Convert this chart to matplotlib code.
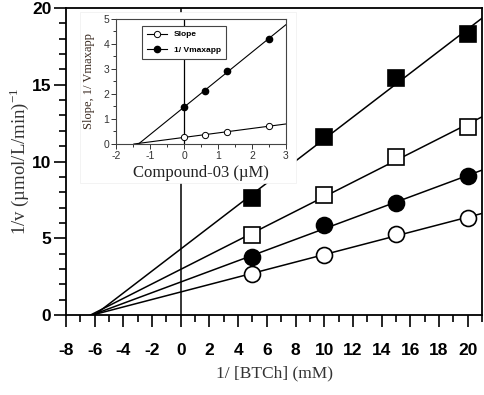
import numpy as np
import matplotlib
matplotlib.use("Agg")
import matplotlib.pyplot as plt
from matplotlib.patches import Rectangle
from matplotlib.ticker import MultipleLocator

plt.rcParams['axes.unicode_minus'] = False

# ---- Data ----
btch_inv = [5, 10, 15, 20]
v_filled_sq = [7.65, 11.6, 15.45, 18.3]
v_open_sq = [5.2, 7.8, 10.3, 12.25]
v_filled_ci = [3.75, 5.85, 7.3, 9.05]
v_open_ci = [2.7, 3.9, 5.28, 6.3]

conc = [0, 0.625, 1.25, 2.5]
slope_vals = [0.28, 0.36, 0.48, 0.72]
vmax_vals = [1.47, 2.12, 2.92, 4.2]

main_xticks = list(range(-8, 21, 2))
main_yticks = [0, 5, 10, 15, 20]

fig = plt.figure(figsize=(4.84, 3.95), dpi=100)
ax = fig.add_axes([66/484, 1-315/395, (482-66)/484, (315-8)/395])
ax.set_xlim(-8, 21)
ax.set_ylim(0, 20)

def fit_line(x, y, a, x_end, lw=1.1):
    k, b = np.polyfit(x, y, 1)
    x0 = -b / k
    xs = np.array([x0, x_end])
    a.plot(xs, k*xs + b, color='black', lw=lw, zorder=2)

series = [
    (v_filled_sq, 's', 'black'),
    (v_open_sq, 's', 'white'),
    (v_filled_ci, 'o', 'black'),
    (v_open_ci, 'o', 'white'),
]
for ys, m, fc in series:
    fit_line(btch_inv, ys, ax, 21)
    ax.plot(btch_inv, ys, linestyle='none', marker=m, markersize=11 if m == 's' else 11.5,
            markerfacecolor=fc, markeredgecolor='black', markeredgewidth=1.2, zorder=3)

ax.axvline(0, color='black', lw=1.1, zorder=1)

for s in ax.spines.values():
    s.set_linewidth(1.3)
ax.set_xticks(main_xticks)
ax.set_yticks(main_yticks)
ax.xaxis.set_minor_locator(MultipleLocator(1))
ax.yaxis.set_minor_locator(MultipleLocator(1))
ax.tick_params(axis='both', which='major', direction='out', length=8.5, width=1.2,
               labelsize=12.5)
ax.tick_params(axis='both', which='minor', direction='out', length=5, width=1.2)
for lab in ax.get_xticklabels() + ax.get_yticklabels():
    lab.set_fontfamily('Liberation Sans')
    lab.set_fontweight('bold')
ax.tick_params(axis='x', pad=12)
ax.tick_params(axis='y', pad=2)

ax.set_xlabel('1/ [BTCh] (mM)', family='Liberation Serif', fontsize=12.5, color='#333333', labelpad=5)
ax.set_ylabel('1/v (µmol/L/min)$^{\\mathregular{-1}}$', family='Liberation Serif', fontsize=13.5,
              color='#333333', labelpad=1)

# white background patch behind inset
fig.patches.append(Rectangle((80/484, 1-183/395), (296-80)/484, (183-12)/395,
                             transform=fig.transFigure, facecolor='white',
                             edgecolor='#eeeeee', lw=0.5, zorder=1))

ins = fig.add_axes([116/484, 1-144/395, (286-116)/484, (144-19)/395])
ins.set_zorder(2)
ins.set_xlim(-2, 3)
ins.set_ylim(0, 5)
fit_line(conc, slope_vals, ins, 3, lw=0.8)
fit_line(conc, vmax_vals, ins, 3, lw=0.8)
ins.axvline(0, color='black', lw=0.9, zorder=1)
ins.plot(conc, slope_vals, linestyle='none', marker='o', markersize=4.5,
         markerfacecolor='white', markeredgecolor='black', markeredgewidth=0.7, zorder=3)
ins.plot(conc, vmax_vals, linestyle='none', marker='o', markersize=4.5,
         markerfacecolor='black', markeredgecolor='black', zorder=3)
for s in ins.spines.values():
    s.set_linewidth(0.8)
    s.set_color('#444444')
ins.xaxis.set_major_locator(MultipleLocator(1))
ins.xaxis.set_minor_locator(MultipleLocator(0.5))
ins.yaxis.set_major_locator(MultipleLocator(1))
ins.yaxis.set_minor_locator(MultipleLocator(0.5))
ins.tick_params(axis='both', which='major', direction='out', length=3.5, width=0.7,
                labelsize=7.5, pad=1.5, colors='#333333')
ins.tick_params(axis='both', which='minor', direction='out', length=2, width=0.7, colors='#333333')
for lab in ins.get_xticklabels() + ins.get_yticklabels():
    lab.set_fontfamily('Liberation Sans')
ins.set_xlabel('Compound-03 (µM)', family='Liberation Serif', fontsize=12, color='#222222', labelpad=3)
ins.set_ylabel('Slope, 1/ Vmaxapp', family='Liberation Serif', fontsize=9, color='#3a2a20', labelpad=6)

# legend
l1, = ins.plot([], [], color='black', lw=0.8, marker='o', markersize=4.5,
               markerfacecolor='white', markeredgecolor='black', markeredgewidth=0.7)
l2, = ins.plot([], [], color='black', lw=0.8, marker='o', markersize=4.5,
               markerfacecolor='black', markeredgecolor='black')
leg = ins.legend([l1, l2], ['Slope', '1/ Vmaxapp'], loc='upper left',
                 bbox_to_anchor=(0.13, 0.98), fancybox=False, framealpha=1,
                 edgecolor='#444444', prop={'family': 'Liberation Sans', 'weight': 'bold', 'size': 6},
                 handlelength=2.4, borderpad=0.6, labelspacing=0.9)
leg.get_frame().set_linewidth(0.8)

fig.savefig('out.png', dpi=100)
